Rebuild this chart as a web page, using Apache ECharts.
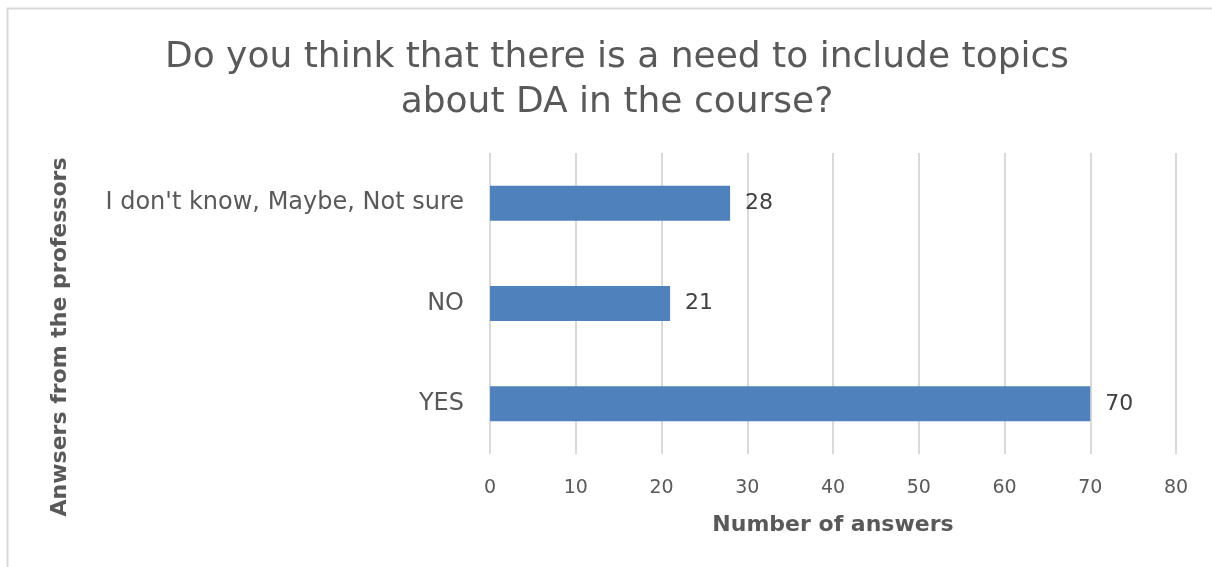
<!DOCTYPE html>
<html><head><meta charset="utf-8">
<script src="https://cdn.jsdelivr.net/npm/echarts@6/dist/echarts.min.js"></script>
<style>html,body{margin:0;padding:0;background:#fff}#c{width:1212px;height:567px}</style>
</head><body><div id="c"></div>
<script>
const categories = ["YES", "NO", "I don't know, Maybe, Not sure"];
const values = [70, 21, 28];
const titleText = "Do you think that there is a need to include topics\nabout DA in the course?";
const xAxisName = "Number of answers";
const yAxisName = "Anwsers from the professors";
const FONT = "'DejaVu Sans', sans-serif";
const chart = echarts.init(document.getElementById('c'));
chart.setOption({
  animation: false,
  backgroundColor: '#fff',
  title: {
    text: titleText, left: 612, top: 30, textAlign: 'center',
    textStyle: { fontFamily: FONT, fontWeight: 'normal', fontSize: 36, color: '#595959', lineHeight: 45 }
  },
  grid: { left: 490, right: 36, top: 153, bottom: 113 },
  xAxis: {
    type: 'value', min: 0, max: 80, interval: 10,
    axisLine: { show: false }, axisTick: { show: false },
    splitLine: { lineStyle: { color: '#d9d9d9', width: 2 } },
    axisLabel: { fontFamily: FONT, fontSize: 19, color: '#595959', margin: 25 }
  },
  yAxis: {
    type: 'category', data: categories,
    axisLine: { show: false }, axisTick: { show: false },
    axisLabel: { fontFamily: FONT, fontSize: 24, color: '#595959', margin: 26 }
  },
  series: [{
    type: 'bar', data: values, barWidth: 35,
    itemStyle: { color: '#4f81bd' },
    label: { show: true, position: 'right', distance: 15, fontFamily: FONT, fontSize: 22, color: '#404040' }
  }],
  graphic: [
    { type: 'rect', shape: { x: 7.5, y: 8.5, width: 1220, height: 580 }, style: { fill: 'none', stroke: '#d9d9d9', lineWidth: 2 }, silent: true },
    { type: 'text', x: 833, y: 525, style: { text: xAxisName, fontFamily: FONT, fontWeight: 'bold', fontSize: 22, fill: '#595959', textAlign: 'center', textVerticalAlign: 'middle' } },
    { type: 'text', x: 60, y: 337, rotation: Math.PI / 2, style: { text: yAxisName, fontFamily: FONT, fontWeight: 'bold', fontSize: 22, fill: '#595959', textAlign: 'center', textVerticalAlign: 'middle' } }
  ]
});
</script></body></html>
